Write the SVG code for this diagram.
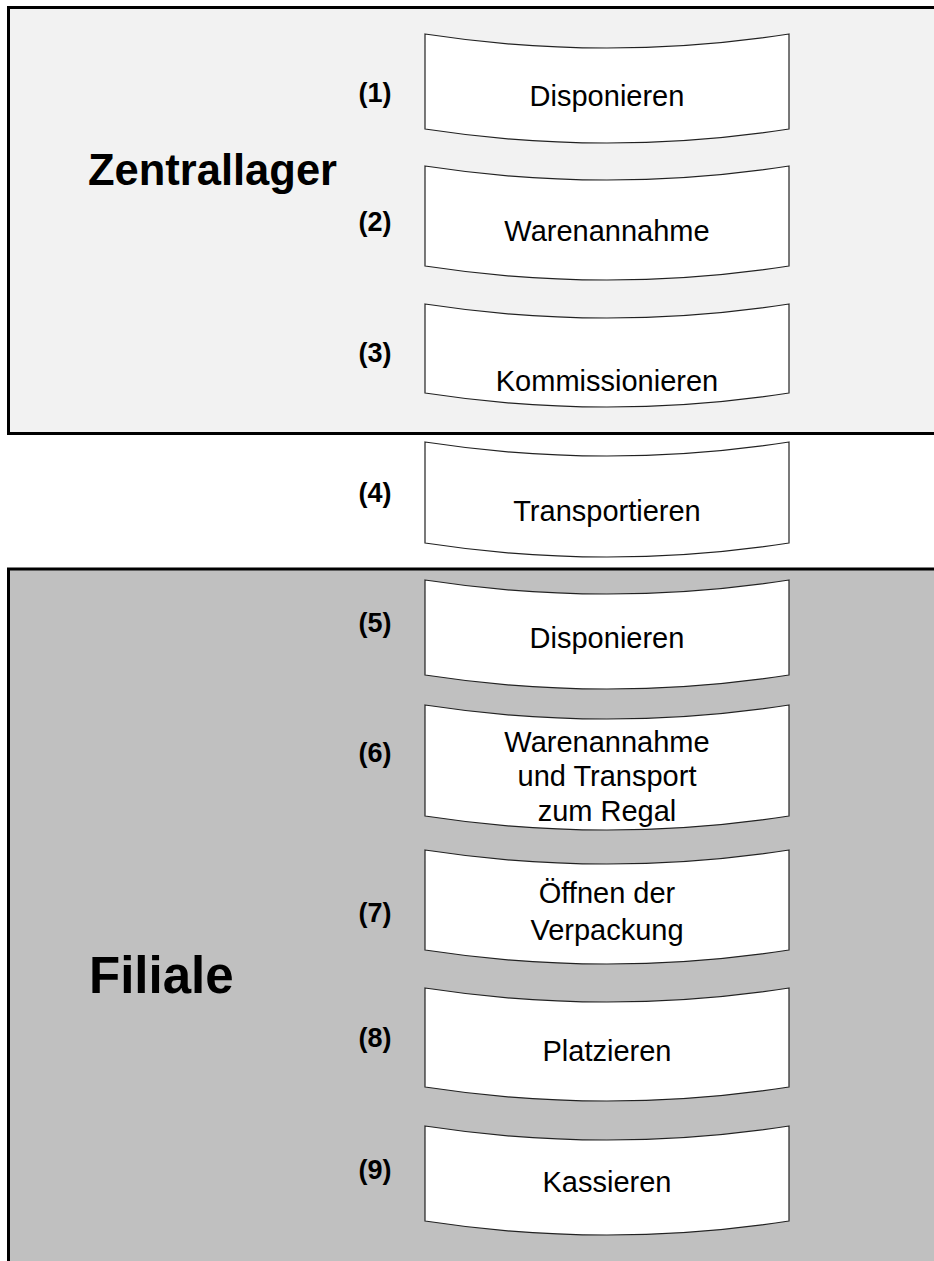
<svg xmlns="http://www.w3.org/2000/svg" width="934" height="1261" viewBox="0 0 934 1261">
  <style>
    .lane { stroke: #000; stroke-width: 3; }
    .step { fill: #fff; stroke: #222; stroke-width: 1.2; }
    .lbl { font-family: "Liberation Sans", Arial, sans-serif; font-size: 29px; fill: #000; text-anchor: middle; }
    .num { font-family: "Liberation Sans", Arial, sans-serif; font-size: 27px; font-weight: bold; fill: #000; text-anchor: middle; }
    .title { font-family: "Liberation Sans", Arial, sans-serif; font-weight: bold; fill: #000; }
  </style>
  <rect width="934" height="1261" fill="#fff"/>

  <!-- swimlanes -->
  <g id="lane-zentrallager">
    <rect class="lane" x="8.5" y="7.5" width="940" height="426" fill="#f2f2f2"/>
    <text class="title" x="88" y="185" font-size="43.5">Zentrallager</text>
  </g>
  <g id="lane-filiale">
    <rect class="lane" x="8.5" y="569" width="940" height="720" fill="#c0c0c0"/>
    <text class="title" x="89" y="993" font-size="51">Filiale</text>
  </g>

  <g id="connectors"></g>

  <!-- process steps: top edge concave, bottom edge convex -->
  <g id="step1">
    <path class="step" d="M425,34 Q607,62 789,34 L789,129 Q607,157 425,129 Z"/>
    <text class="num" x="375" y="102">(1)</text>
    <text class="lbl" x="607" y="106">Disponieren</text>
  </g>
  <g id="step2">
    <path class="step" d="M425,166 Q607,194 789,166 L789,266 Q607,294 425,266 Z"/>
    <text class="num" x="375" y="231">(2)</text>
    <text class="lbl" x="607" y="241">Warenannahme</text>
  </g>
  <g id="step3">
    <path class="step" d="M425,304 Q607,332 789,304 L789,393 Q607,421 425,393 Z"/>
    <text class="num" x="375" y="362">(3)</text>
    <text class="lbl" x="607" y="391">Kommissionieren</text>
  </g>
  <g id="step4">
    <path class="step" d="M425,442 Q607,470 789,442 L789,543 Q607,571 425,543 Z"/>
    <text class="num" x="375" y="502">(4)</text>
    <text class="lbl" x="607" y="521">Transportieren</text>
  </g>
  <g id="step5">
    <path class="step" d="M425,580 Q607,608 789,580 L789,675 Q607,703 425,675 Z"/>
    <text class="num" x="375" y="632">(5)</text>
    <text class="lbl" x="607" y="648">Disponieren</text>
  </g>
  <g id="step6">
    <path class="step" d="M425,705 Q607,733 789,705 L789,816 Q607,844 425,816 Z"/>
    <text class="num" x="375" y="762">(6)</text>
    <text class="lbl" x="607" y="752">Warenannahme</text>
    <text class="lbl" x="607" y="786">und Transport</text>
    <text class="lbl" x="607" y="821">zum Regal</text>
  </g>
  <g id="step7">
    <path class="step" d="M425,850 Q607,878 789,850 L789,950 Q607,978 425,950 Z"/>
    <text class="num" x="375" y="922">(7)</text>
    <text class="lbl" x="607" y="903">Öffnen der</text>
    <text class="lbl" x="607" y="940">Verpackung</text>
  </g>
  <g id="step8">
    <path class="step" d="M425,988 Q607,1016 789,988 L789,1087 Q607,1115 425,1087 Z"/>
    <text class="num" x="375" y="1047">(8)</text>
    <text class="lbl" x="607" y="1061">Platzieren</text>
  </g>
  <g id="step9">
    <path class="step" d="M425,1126 Q607,1154 789,1126 L789,1221 Q607,1249 425,1221 Z"/>
    <text class="num" x="375" y="1179">(9)</text>
    <text class="lbl" x="607" y="1192">Kassieren</text>
  </g>
</svg>
